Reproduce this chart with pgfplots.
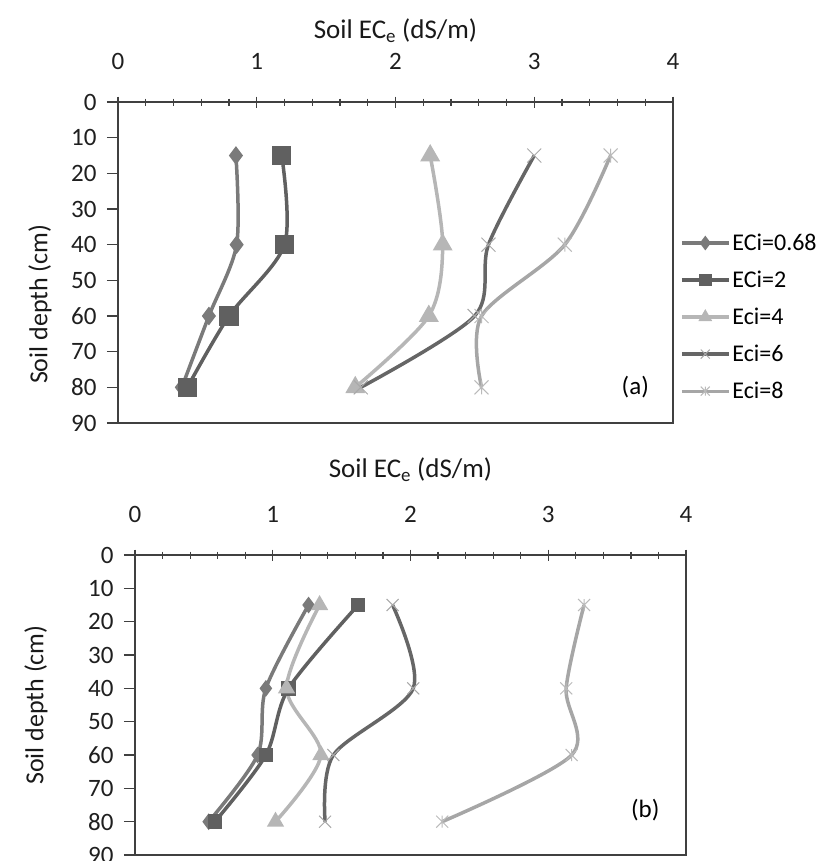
\documentclass[border=0pt]{standalone}
\usepackage{fontspec}
\setmainfont{Carlito}
\usepackage{pgfplots}
\pgfplotsset{compat=1.18}

\definecolor{axgray}{RGB}{64,64,64}
\definecolor{cA}{RGB}{122,122,122}
\definecolor{cB}{RGB}{96,96,96}
\definecolor{cC}{RGB}{182,182,182}
\definecolor{cD}{RGB}{102,102,102}
\definecolor{cE}{RGB}{166,166,166}
\definecolor{mkD}{RGB}{168,168,168}
\definecolor{mkE}{RGB}{186,186,186}

% Excel-like x and star markers
\pgfdeclareplotmark{exx}{%
  \pgfpathmoveto{\pgfqpoint{-\pgfplotmarksize}{-\pgfplotmarksize}}%
  \pgfpathlineto{\pgfqpoint{\pgfplotmarksize}{\pgfplotmarksize}}%
  \pgfpathmoveto{\pgfqpoint{-\pgfplotmarksize}{\pgfplotmarksize}}%
  \pgfpathlineto{\pgfqpoint{\pgfplotmarksize}{-\pgfplotmarksize}}%
  \pgfusepathqstroke}
\pgfdeclareplotmark{exstar}{%
  \pgfpathmoveto{\pgfqpoint{-\pgfplotmarksize}{-\pgfplotmarksize}}%
  \pgfpathlineto{\pgfqpoint{\pgfplotmarksize}{\pgfplotmarksize}}%
  \pgfpathmoveto{\pgfqpoint{-\pgfplotmarksize}{\pgfplotmarksize}}%
  \pgfpathlineto{\pgfqpoint{\pgfplotmarksize}{-\pgfplotmarksize}}%
  \pgfpathmoveto{\pgfqpoint{0pt}{-\pgfplotmarksize}}%
  \pgfpathlineto{\pgfqpoint{0pt}{\pgfplotmarksize}}%
  \pgfusepathqstroke}

\newcommand{\fs}{\fontsize{25}{29}\selectfont}

\pgfplotsset{
  soil/.style={
    scale only axis,
    y dir=reverse,
    xmin=0, xmax=4, ymin=0, ymax=90,
    xtick={0,1,2,3,4}, minor x tick num=4,
    ytick={0,10,...,90},
    xticklabel pos=right, xtick pos=right, ytick pos=left,
    xtick align=center, ytick align=outside,
    major tick length=11pt, minor tick length=7pt,
    axis line style={draw=axgray, line width=1.4pt},
    every tick/.style={draw=axgray, line width=1.2pt},
    /pgf/number format/assume math mode=true,
    tick label style={font=\fs, text=black!88},
    xlabel style={font=\fontsize{27}{31}\selectfont, text=black!90},
    ylabel style={font=\fontsize{26}{30}\selectfont, text=black!90},
    xlabel={Soil EC\textsubscript{e} (dS/m)},
    ylabel={Soil depth (cm)},
    yticklabel style={xshift=-7pt},
    every axis plot/.append style={smooth, tension=0.5, line width=3.5pt},
  },
}

\begin{document}
\begin{tikzpicture}
\path[use as bounding box] (0pt,0pt) rectangle (826pt,-861pt);

% ---------- panel (a) ----------
\begin{axis}[soil,
  at={(118pt,-423pt)}, anchor=south west,
  width=555pt, height=321pt,
  xticklabel style={yshift=23pt},
  xlabel style={at={(axis description cs:0.5,1)}, anchor=center, yshift=71pt},
  ylabel style={at={(axis description cs:-0.1405,0.37)}, anchor=center},
  legend style={at={(axis description cs:1,0.33)}, anchor=west, xshift=4pt,
    draw=none, fill=none, font=\fontsize{24}{28}\selectfont, row sep=15pt},
  legend cell align=left,
  legend image code/.code={%
    \draw[#1, line width=3.2pt] (0pt,0pt) -- (47pt,0pt);
    \draw[#1, mark size=4.5pt, only marks] plot coordinates {(23.5pt,0pt)};},
]
\addplot[cA, mark=diamond*, mark size=6.5pt, mark options={fill=cA, draw=cA}]
  coordinates {(0.85,15) (0.855,40) (0.655,60) (0.46,80)};
\addlegendentry{ECi=0.68}
\addplot[cB, mark=square*, mark size=8pt, mark options={fill=cB, draw=cB}]
  coordinates {(1.18,15) (1.20,40) (0.80,60) (0.50,80)};
\addlegendentry{ECi=2}
\addplot[cC, mark=triangle*, mark size=8pt, mark options={fill=cC, draw=cC}]
  coordinates {(2.25,15) (2.34,40) (2.24,60) (1.71,80)};
\addlegendentry{Eci=4}
\addplot[cD, mark=exx, mark size=7pt, mark options={draw=mkD, line width=1pt}]
  coordinates {(3.00,15) (2.67,40) (2.57,60) (1.75,80)};
\addlegendentry{Eci=6}
\addplot[cE, mark=exstar, mark size=7pt, mark options={draw=mkE, line width=1pt}]
  coordinates {(3.55,15) (3.22,40) (2.62,60) (2.62,80)};
\addlegendentry{Eci=8}
\node[font=\fs] at (axis description cs:0.932,0.112) {(a)};
\end{axis}

% ---------- panel (b) ----------
\begin{axis}[soil,
  at={(135pt,-855pt)}, anchor=south west,
  width=551pt, height=300pt,
  xticklabel style={yshift=23pt},
  xlabel style={at={(axis description cs:0.5,1)}, anchor=center, yshift=85pt},
  ylabel style={at={(axis description cs:-0.1797,0.5)}, anchor=center},
]
\addplot[cA, mark=diamond*, mark size=5.5pt, mark options={fill=cA, draw=cA}]
  coordinates {(1.26,15) (0.95,40) (0.89,60) (0.535,80)};
\addplot[cB, mark=square*, mark size=5.5pt, mark options={fill=cB, draw=cB}]
  coordinates {(1.62,15) (1.115,40) (0.95,60) (0.58,80)};
\addplot[cC, mark=triangle*, mark size=6.5pt, mark options={fill=cC, draw=cC}]
  coordinates {(1.34,15) (1.10,40) (1.35,60) (1.02,80)};
\addplot[cD, mark=exx, mark size=6pt, mark options={draw=mkD, line width=1pt}]
  coordinates {(1.87,15) (2.02,40) (1.44,60) (1.38,80)};
\addplot[cE, mark=exstar, mark size=6pt, mark options={draw=mkE, line width=1pt}]
  coordinates {(3.26,15) (3.13,40) (3.17,60) (2.23,80)};
\node[font=\fs] at (axis description cs:0.926,0.15) {(b)};
\end{axis}
\end{tikzpicture}
\end{document}
